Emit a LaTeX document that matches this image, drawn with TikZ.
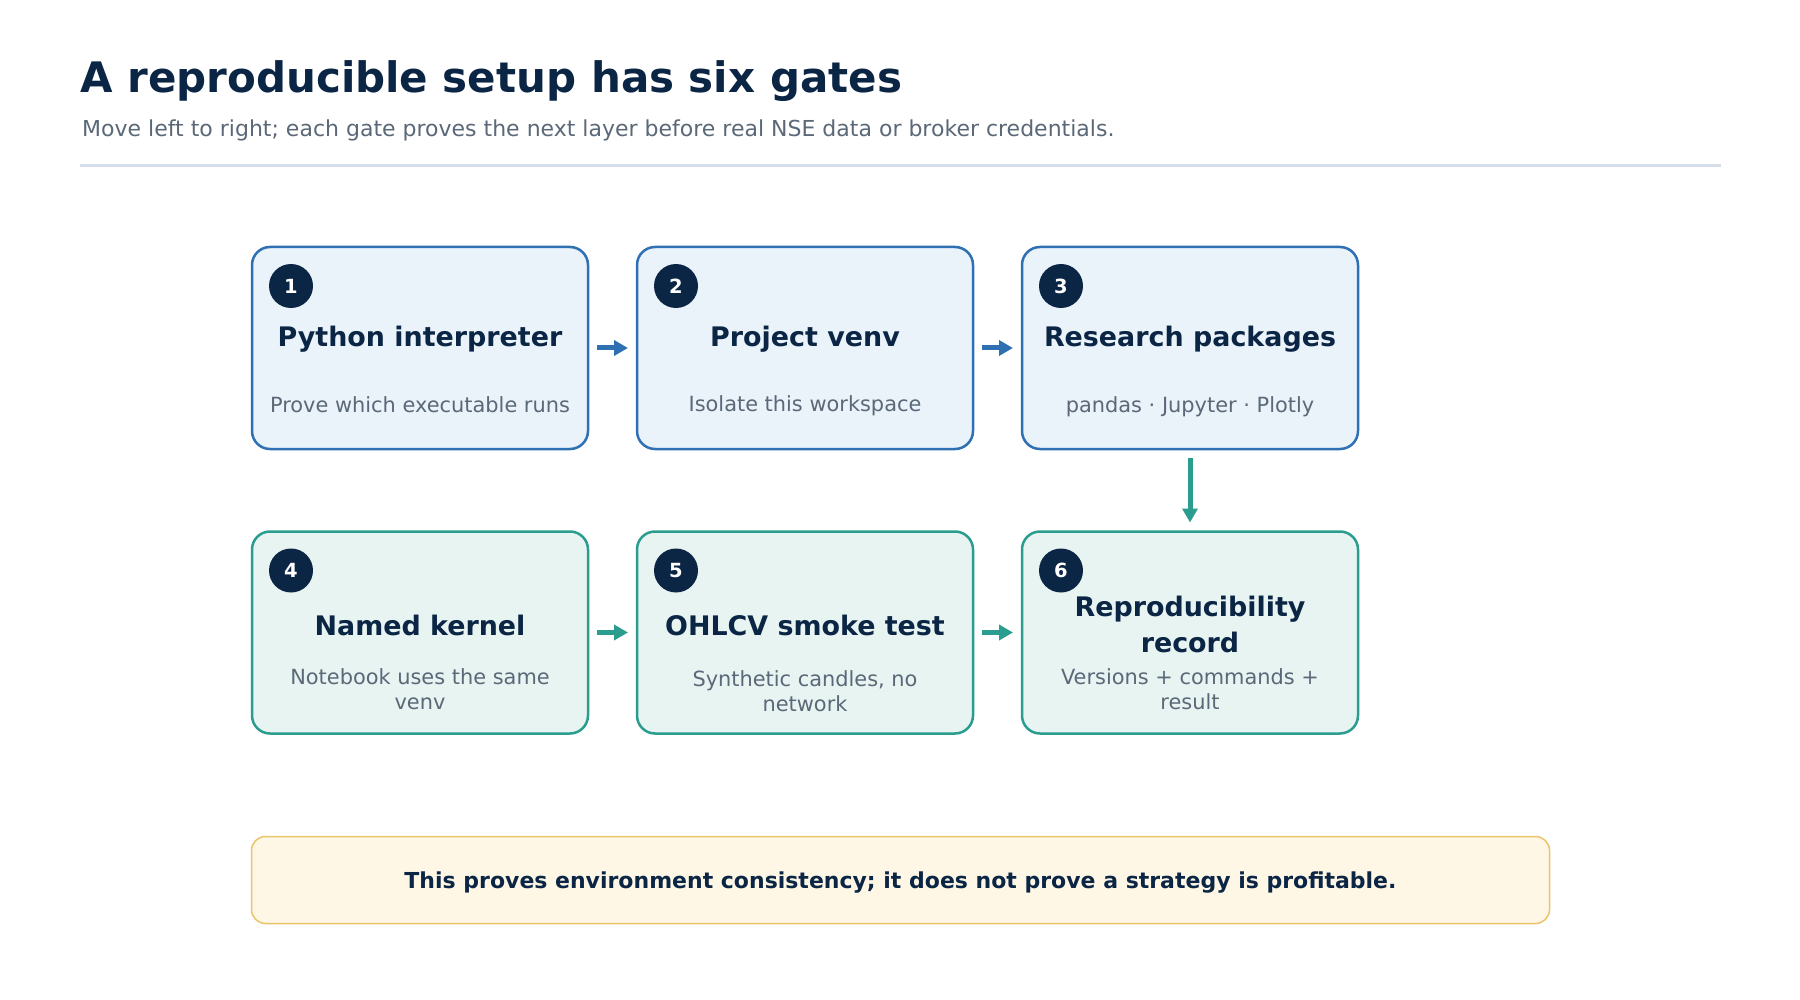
\documentclass[tikz,border=0pt]{standalone}
\usepackage{fontspec}
\setmainfont{DejaVu Sans}
\usetikzlibrary{positioning,arrows.meta}

\definecolor{navy}{HTML}{0B2545}
\definecolor{slate}{HTML}{5A6878}
\definecolor{rulegrey}{HTML}{D5DEE9}
\definecolor{blueline}{HTML}{2F70B3}
\definecolor{bluefill}{HTML}{EAF2FA}
\definecolor{tealline}{HTML}{2A9D8F}
\definecolor{tealfill}{HTML}{E8F4F2}
\definecolor{notefill}{HTML}{FEF7E6}
\definecolor{noteline}{HTML}{E9C46A}

\tikzset{
  gate/.style={draw=#1line, fill=#1fill, line width=2.5pt, rounded corners=18pt,
    minimum width=336pt, minimum height=202pt, outer sep=0pt, inner sep=0pt},
  badge/.style={circle, fill=navy, text=white, minimum size=44pt, inner sep=0pt,
    font=\fontsize{19.5}{22}\selectfont\bfseries},
  gatetitle/.style={anchor=base, inner sep=0pt, text=navy, align=center,
    font=\fontsize{26.9}{36}\selectfont\bfseries},
  gatesub/.style={anchor=base, inner sep=0pt, text=slate, align=center,
    font=\fontsize{20.9}{25}\selectfont},
  flow/.style={draw=#1, line width=5pt, shorten <=9pt, shorten >=9pt,
    -{Triangle[length=14pt,width=15pt]}},
  notebox/.style={draw=noteline, fill=notefill, line width=1.5pt, rounded corners=14pt,
    minimum width=1298pt, minimum height=87pt, text=navy, text height=22pt, text depth=5pt,
    font=\fontsize{22}{26}\selectfont\bfseries}
}

\begin{document}
\begin{tikzpicture}[x=1pt,y=-1pt]
\useasboundingbox (0,0) rectangle (1800,1000);

% draw heading
\node (head) [anchor=base west, inner sep=0pt, text=navy, font=\fontsize{42}{48}\selectfont\bfseries]
  at (80,93) {A reproducible setup has six gates};
\node (lede) [anchor=base west, inner sep=0pt, text=slate, font=\fontsize{22}{26}\selectfont]
  at (82,137) {Move left to right; each gate proves the next layer before real NSE data or broker credentials.};
\draw[rulegrey, line width=3pt] (80,165.5) -- (1721,165.5);



% draw gates
\node (g1) [gate=blue] at (420,348) {};
\node (g2) [gate=blue] at (805,348) {};
\node (g3) [gate=blue] at (1190,348) {};
\node (g4) [gate=teal] at (420,632.5) {};
\node (g5) [gate=teal] at (805,632.5) {};
\node (g6) [gate=teal] at (1190,632.5) {};

% draw numbers
\foreach \n in {1,...,6}
\node (n\n) [badge] at ([shift={(39,39)}]g\n.north west) {\n};

% draw texts
\node (t1) [gatetitle] at (420,347) {Python interpreter};
\node (s1) [gatesub] at (420,412) {Prove which executable runs};
\node (t2) [gatetitle] at (805,347) {Project venv};
\node (s2) [gatesub] at (805,411) {Isolate this workspace};
\node (t3) [gatetitle] at (1190,347) {Research packages};
\node (s3) [gatesub] at (1190,412) {pandas · Jupyter · Plotly};
\node (t4) [gatetitle] at (420,635) {Named kernel};
\node (s4) [gatesub] at (420,709) {Notebook uses the same\\venv};
\node (t5) [gatetitle] at (805,635) {OHLCV smoke test};
\node (s5) [gatesub] at (805,711) {Synthetic candles, no\\network};
\node (t6) [gatetitle] at (1190,652) {Reproducibility\\record};
\node (s6) [gatesub] at (1190,709) {Versions + commands +\\result};

% draw arrows
\draw[flow=blueline] (g1.east) -- (g2.west);
\draw[flow=blueline] (g2.east) -- (g3.west);
\draw[flow=tealline] (g3.south) -- (g6.north);
\draw[flow=tealline] (g4.east) -- (g5.west);
\draw[flow=tealline] (g5.east) -- (g6.west);

% draw note
\node (note) [notebox] at (900.5,880) {This proves environment consistency; it does not prove a strategy is profitable.};

\end{tikzpicture}
\end{document}
